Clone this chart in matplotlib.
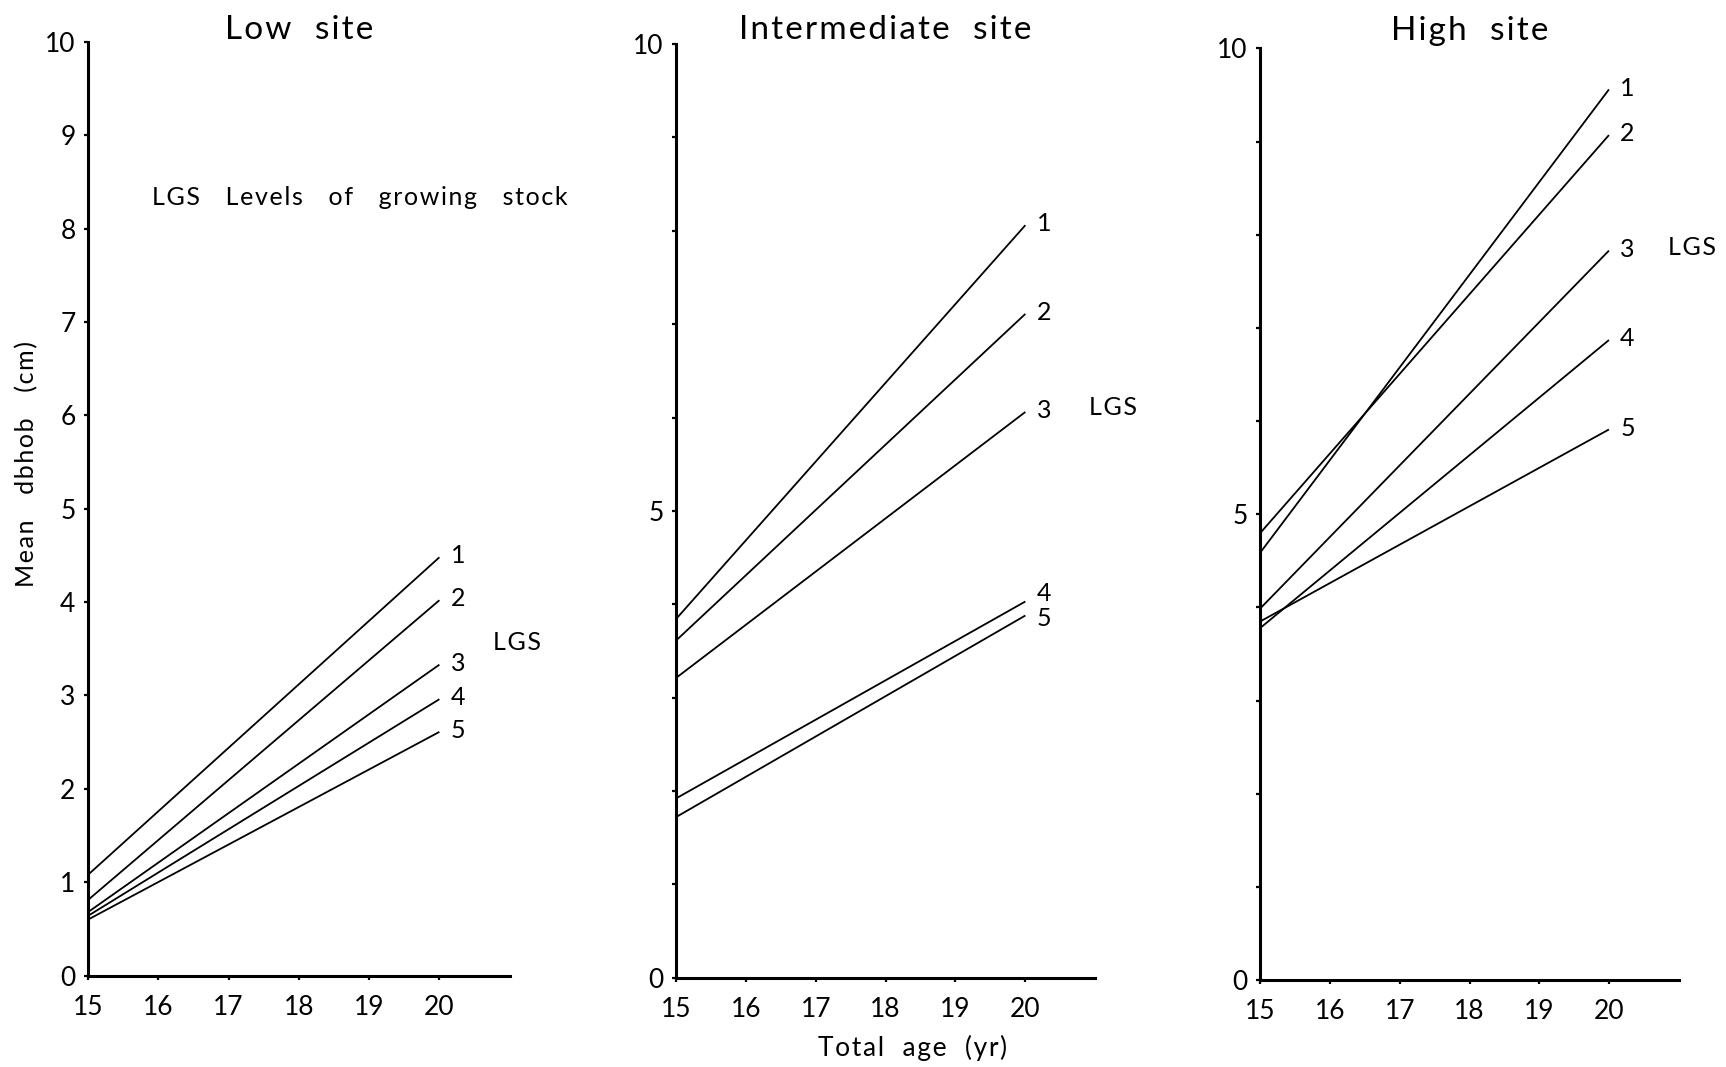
import numpy as np
import matplotlib
import matplotlib.pyplot as plt

matplotlib.use("Agg")
plt.rcParams['font.family'] = ['Lato', 'DejaVu Sans']

# stand age (yr) at the two ends of each line
ages = [15, 20]
lgs_levels = ["1", "2", "3", "4", "5"]

# mean dbhob (cm) at age 15 and age 20, one entry per LGS level
low_start = [1.08, 0.81, 0.68, 0.64, 0.60]
low_end = [4.48, 4.02, 3.33, 2.96, 2.61]
mid_start = [3.84, 3.61, 3.21, 1.92, 1.72]
mid_end = [8.06, 7.11, 6.06, 4.03, 3.88]
high_start = [4.59, 4.80, 3.99, 3.78, 3.85]
high_end = [9.56, 9.07, 7.83, 6.87, 5.91]

site_titles = ["Low  site", "Intermediate  site", "High  site"]
x_ticks = [15, 16, 17, 18, 19, 20]
y_ticks = list(range(0, 11))


def spaced(s):
    # the original lettering is widely tracked
    return "\u200a".join(s)


fig = plt.figure(figsize=(17.26, 10.67), dpi=100)
# axes boxes measured on the 1568x969 view of the original
rects = [[80 / 1568, 1 - 886 / 969, 383 / 1568, 848 / 969],
         [614 / 1568, 1 - 888 / 969, 381 / 1568, 848 / 969],
         [1145 / 1568, 1 - 890 / 969, 380 / 1568, 846 / 969]]
starts = [low_start, mid_start, high_start]
ends = [low_end, mid_end, high_end]
lgs_pos = [(20.77, 3.57), (20.91, 6.11), (20.84, 7.86)]
title_y = [1.013, 1.015, 1.019]
# small vertical nudges (points) of the level numbers, 4 and 5 sit close in the middle panel
label_dy = [[1, 1, 1, 1, 1], [1, 1, 1, 6, -2], [1, 1, 1, 1, 1]]

axes = []
for i in range(3):
    ax = fig.add_axes(rects[i])
    for s, e, lab, dy in zip(starts[i], ends[i], lgs_levels, label_dy[i]):
        ax.plot(ages, [s, e], color="black", lw=1.3, solid_capstyle='butt')
        ax.annotate(lab, xy=(ages[1], e), xytext=(8, dy), textcoords="offset points",
                    ha="left", va="center", fontsize=18)
    ax.text(lgs_pos[i][0], lgs_pos[i][1], spaced("LGS"), ha="left", va="center",
            fontsize=18, clip_on=False)
    ax.set_xlim(15, 21)
    ax.set_ylim(0, 10)
    ax.set_xticks(x_ticks)
    ax.set_yticks(y_ticks)
    if i > 0:
        ax.set_yticklabels([str(t) if t % 5 == 0 else "" for t in y_ticks])
    for side in ["top", "right"]:
        ax.spines[side].set_visible(False)
    for side in ["left", "bottom"]:
        ax.spines[side].set_linewidth(2.2)
    ax.tick_params(axis="both", direction="out", length=3, width=1.6, labelsize=19)
    ax.tick_params(axis="x", pad=11)
    ax.tick_params(axis="y", pad=6)
    ax.text(0.5, title_y[i], spaced(site_titles[i]), transform=ax.transAxes,
            ha="center", va="center", fontsize=24)
    axes.append(ax)

axes[0].text(15.91, 8.33, spaced("LGS   Levels   of   growing   stock"), ha="left",
             va="center", fontsize=18, clip_on=False)
fig.text(24 / 1568, 1 - 421 / 969, spaced("Mean   dbhob   (cm)"), rotation=90,
         ha="center", va="center", fontsize=18)
axes[1].set_xlabel(spaced("Total  age  (yr)"), fontsize=19, va="center")
axes[1].xaxis.set_label_coords(0.564, -0.0755)

fig.savefig("out.png", dpi=100)
